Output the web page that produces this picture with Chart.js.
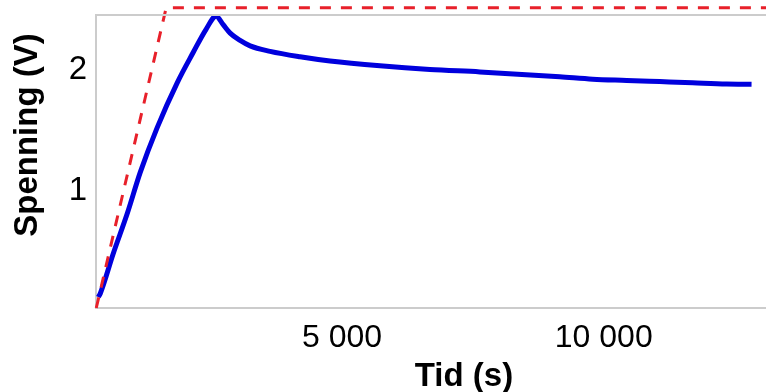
<!DOCTYPE html>
<html>
<head>
<meta charset="utf-8">
<script src="https://cdn.jsdelivr.net/npm/chart.js@4"></script>
<style>
  body { margin: 0; background: #fff; }
  #wrap { width: 766px; height: 392px; }
</style>
</head>
<body>
<div id="wrap"><canvas id="c"></canvas></div>
<script>
  // data (time in s, voltage in V)
  var blueTime = [344, 382, 630, 897, 1145, 1469, 1851, 2156, 2400, 2595, 2730, 2863, 3053, 3244, 3626, 4198, 4771, 5725, 6679, 7634, 9160, 9790, 10439, 11069, 11698, 12347, 12824];
  var blueVolt = [0.12, 0.15, 0.48, 0.81, 1.15, 1.52, 1.89, 2.14, 2.33, 2.44, 2.37, 2.30, 2.24, 2.195, 2.15, 2.105, 2.07, 2.03, 2.00, 1.98, 1.94, 1.92, 1.91, 1.90, 1.89, 1.88, 1.878];
  var redTime = [305, 1641, 13100];
  var redVolt = [0.03, 2.51, 2.51];
  var xTicks = [5000, 10000];
  var yTicks = [1, 2];

  var font = 'Liberation Sans, Arial, sans-serif';
  var axisGray = '#cccccc';

  function pts(xs, ys) {
    return xs.map(function(x, i) { return { x: x, y: ys[i] }; });
  }

  // top frame line + axis titles placed like the original
  var extras = {
    id: 'extras',
    afterDraw: function(chart) {
      var ctx = chart.ctx, a = chart.chartArea;
      ctx.save();
      ctx.strokeStyle = axisGray;
      ctx.lineWidth = 2;
      ctx.beginPath();
      ctx.moveTo(a.left, a.top);
      ctx.lineTo(a.right, a.top);
      ctx.stroke();

      ctx.fillStyle = '#000';
      ctx.font = 'bold 33px ' + font;
      ctx.textAlign = 'center';
      ctx.textBaseline = 'alphabetic';
      ctx.fillText('Tid (s)', 464, 386);

      ctx.translate(37, 135);
      ctx.rotate(-Math.PI / 2);
      ctx.fillText('Spenning (V)', 0, 0);
      ctx.restore();
    }
  };

  function noPad(s) {
    s.paddingTop = 0; s.paddingBottom = 0; s.paddingLeft = 0; s.paddingRight = 0;
  }

  new Chart(document.getElementById('c'), {
    type: 'line',
    data: {
      datasets: [
        {
          data: pts(redTime, redVolt),
          borderColor: '#e8202a',
          borderWidth: 3,
          borderDash: [11, 10],
          pointRadius: 0,
          tension: 0,
          clip: false
        },
        {
          data: pts(blueTime, blueVolt),
          borderColor: '#0000dd',
          borderWidth: 5,
          pointRadius: 0,
          cubicInterpolationMode: 'monotone'
        }
      ]
    },
    options: {
      responsive: true,
      maintainAspectRatio: false,
      animation: false,
      layout: { padding: { top: 15, right: 0, left: 0, bottom: 0 } },
      plugins: {
        legend: { display: false },
        tooltip: { enabled: false }
      },
      scales: {
        x: {
          type: 'linear',
          min: 300,
          max: 13100,
          grid: { display: false, drawTicks: false },
          border: { display: true, color: axisGray, width: 2 },
          afterBuildTicks: function(s) { s.ticks = xTicks.map(function(v) { return { value: v }; }); },
          afterFit: function(s) { s.height = 84; noPad(s); },
          ticks: {
            color: '#000',
            padding: 11,
            maxRotation: 0,
            font: { family: font, size: 32 },
            callback: function(v) { return String(v).replace(/\B(?=(\d{3})+(?!\d))/g, ' '); }
          }
        },
        y: {
          min: 0.03,
          max: 2.45,
          grid: { display: false, drawTicks: false },
          border: { display: true, color: axisGray, width: 2 },
          afterBuildTicks: function(s) { s.ticks = yTicks.map(function(v) { return { value: v }; }); },
          afterFit: function(s) { s.width = 96; noPad(s); },
          ticks: {
            color: '#000',
            padding: 9,
            font: { family: font, size: 33 }
          }
        }
      }
    },
    plugins: [extras]
  });
</script>
</body>
</html>
